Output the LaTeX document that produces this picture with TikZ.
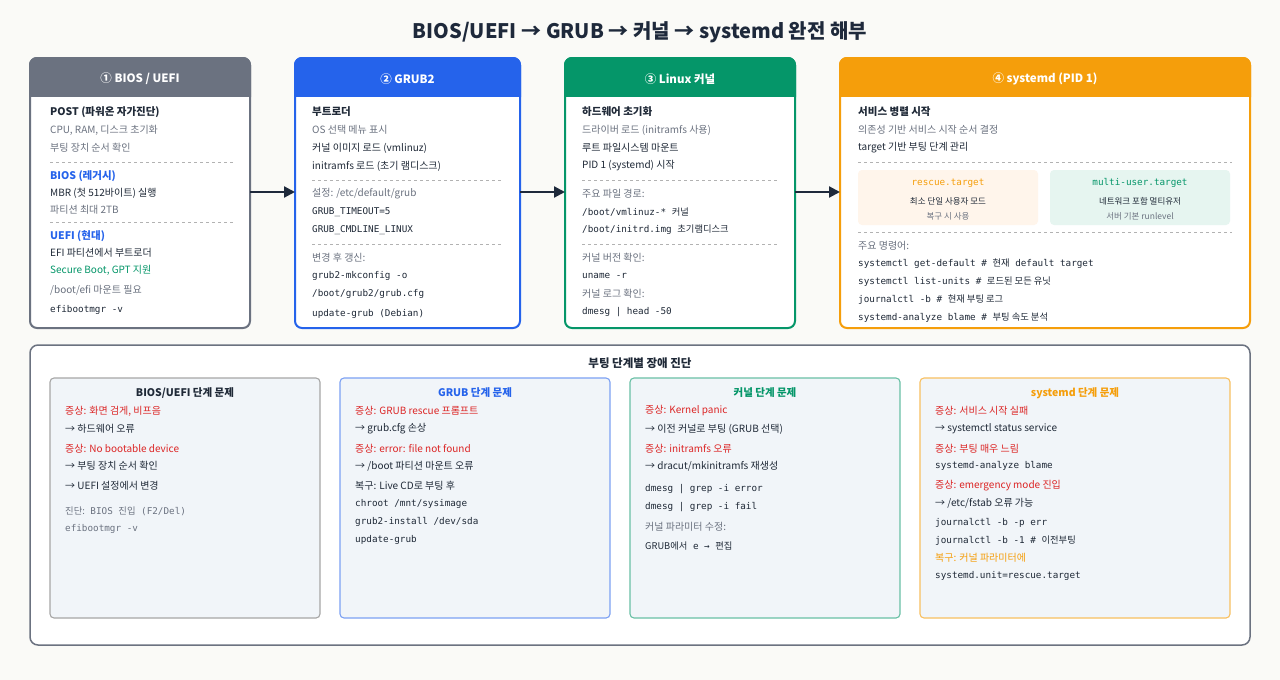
\documentclass[tikz,border=0pt]{standalone}
\usepackage{fontspec}
\setmainfont{Noto Sans CJK KR}
\setmonofont{DejaVu Sans Mono}
\newfontfamily\hgf{Noto Sans CJK KR}
\newcommand{\hg}[1]{{\hgf #1}}
\usetikzlibrary{arrows.meta}
\definecolor{ink}{HTML}{1E293B}
\definecolor{txt}{HTML}{1F2937}
\definecolor{mut}{HTML}{6B7280}
\definecolor{cgray}{HTML}{6B7280}
\definecolor{cblue}{HTML}{2563EB}
\definecolor{cgreen}{HTML}{059669}
\definecolor{corange}{HTML}{F59E0B}
\definecolor{cred}{HTML}{DC2626}
\definecolor{bg}{HTML}{FAFAF7}
\definecolor{panel}{HTML}{F1F5F9}
\tikzset{
 hdrtxt/.style={text=white,font=\fontsize{11.5}{13}\selectfont\bfseries},
 t/.style={anchor=west,inner sep=0pt,text=txt,font=\fontsize{10}{12}\selectfont},
 tb/.style={t,font=\fontsize{10.5}{12}\selectfont\bfseries},
 tg/.style={t,text=mut},
 tm/.style={t,font=\fontsize{9.3}{11}\ttfamily},
 sep/.style={draw=gray!60,dashed,line width=0.8pt},
 flow/.style={draw=ink,line width=2.2pt,-{Triangle[length=11pt,width=11pt]}},
 sub/.style={draw=#1,line width=1.1pt,rounded corners=4pt,fill=panel},
 card/.style={draw=#1,line width=2pt,rounded corners=7pt,fill=white},
}
\begin{document}
\begin{tikzpicture}[x=1pt,y=-1pt]
\fill[bg] (0,0) rectangle (1280,680);
\useasboundingbox (0,0) rectangle (1280,680);
\node[text=ink,font=\fontsize{20}{24}\selectfont\bfseries] (title) at (640,32) {BIOS/UEFI → GRUB → 커널 → systemd 완전 해부};
% cards
\foreach \n/\xa/\xb/\c/\lab in {c1/30/250/cgray/{① BIOS / UEFI}, c2/295/520/cblue/{② GRUB2}, c3/565/795/cgreen/{③ Linux 커널}, c4/840/1250/corange/{④ systemd (PID 1)}}{
 \draw[card=\c] (\xa,58) rectangle (\xb,328);
 \begin{scope}
 \clip[rounded corners=7pt] (\xa,58) rectangle (\xb,328);
 \fill[\c] (\xa,58) rectangle (\xb,97);
 \end{scope}
 \draw[\c,line width=2pt,rounded corners=7pt] (\xa,97) -- (\xa,58) -- (\xb,58) -- (\xb,97);
 \coordinate (\n w) at (\xa,192); \coordinate (\n e) at (\xb,192);
 \node[hdrtxt] (\n h) at ({(\xa+\xb)/2},79) {\lab};
}
\draw[flow] (c1e) -- (c2w);
\draw[flow] (c2e) -- (c3w);
\draw[flow] (c3e) -- (c4w);
% card 1
\node[tb] (a1) at (50,112) {POST (파워온 자가진단)};
\node[tg] (a2) at (50,130) {CPU, RAM, 디스크 초기화};
\node[tg] (a3) at (50,148) {부팅 장치 순서 확인};
\draw[sep] (50,162) -- (233,162);
\node[tb,text=cblue] (a4) at (50,176) {BIOS (레거시)};
\node[t] (a5) at (50,193) {MBR (첫 512바이트) 실행};
\node[tg] (a6) at (50,210) {파티션 최대 2TB};
\draw[sep] (50,222) -- (233,222);
\node[tb,text=cblue] (a7) at (50,236) {UEFI (현대)};
\node[t] (a8) at (50,253) {EFI 파티션에서 부트로더};
\node[t,text=cgreen] (a9) at (50,270) {Secure Boot, GPT 지원};
\node[tg] (a10) at (50,290) {/boot/efi 마운트 필요};
\node[tm] (a11) at (50,310) {efibootmgr -v};
% card 2
\node[tb] (b1) at (312,112) {부트로더};
\node[tg] (b2) at (312,130) {OS 선택 메뉴 표시};
\node[t] (b3) at (312,148) {커널 이미지 로드 (vmlinuz)};
\node[t] (b4) at (312,166) {initramfs 로드 (초기 램디스크)};
\draw[sep] (312,180) -- (502,180);
\node[tg] (b5) at (312,194) {설정: /etc/default/grub};
\node[tm] (b6) at (312,212) {GRUB\_TIMEOUT=5};
\node[tm] (b7) at (312,230) {GRUB\_CMDLINE\_LINUX};
\draw[sep] (312,244) -- (502,244);
\node[tg] (b8) at (312,258) {변경 후 갱신:};
\node[tm] (b9) at (312,276) {grub2-mkconfig -o};
\node[tm] (b10) at (312,294) {/boot/grub2/grub.cfg};
\node[tm] (b11) at (312,314) {update-grub (Debian)};
% card 3
\node[tb] (d1) at (582,112) {하드웨어 초기화};
\node[tg] (d2) at (582,130) {드라이버 로드 (initramfs 사용)};
\node[t] (d3) at (582,148) {루트 파일시스템 마운트};
\node[t] (d4) at (582,166) {PID 1 (systemd) 시작};
\draw[sep] (582,180) -- (777,180);
\node[tg] (d5) at (582,194) {주요 파일 경로:};
\node[tm] (d6) at (582,212) {/boot/vmlinuz-* \hg{커널}};
\node[tm] (d7) at (582,230) {/boot/initrd.img \hg{초기램디스크}};
\draw[sep] (582,244) -- (777,244);
\node[tg] (d8) at (582,258) {커널 버전 확인:};
\node[tm] (d9) at (582,276) {uname -r};
\node[tg] (d10) at (582,294) {커널 로그 확인:};
\node[tm] (d11) at (582,312) {dmesg | head -50};
% card 4
\node[tb] (e1) at (858,112) {서비스 병렬 시작};
\node[tg] (e2) at (858,130) {의존성 기반 서비스 시작 순서 결정};
\node[t] (e3) at (858,148) {target 기반 부팅 단계 관리};
\draw[sep] (858,162) -- (1232,162);
\fill[orange!8,rounded corners=4pt] (858,170) rectangle (1038,225);
\fill[cgreen!10,rounded corners=4pt] (1050,170) rectangle (1230,225);
\node[font=\fontsize{9.3}{10}\ttfamily,text=corange] (r1) at (948,183) {rescue.target};
\node[font=\fontsize{8.5}{10}\selectfont,text=txt] (r2) at (948,201) {최소 단일 사용자 모드};
\node[font=\fontsize{8.5}{10}\selectfont,text=mut] (r3) at (948,216) {복구 시 사용};
\node[font=\fontsize{9.3}{10}\ttfamily,text=cgreen] (m1) at (1140,183) {multi-user.target};
\node[font=\fontsize{8.5}{10}\selectfont,text=txt] (m2) at (1140,201) {네트워크 포함 멀티유저};
\node[font=\fontsize{8.5}{10}\selectfont,text=mut] (m3) at (1140,216) {서버 기본 runlevel};
\draw[sep] (858,232) -- (1232,232);
\node[tg] (e4) at (858,246) {주요 명령어:};
\node[tm] (e5) at (858,264) {systemctl get-default \# \hg{현재} default target};
\node[tm] (e6) at (858,282) {systemctl list-units \# \hg{로드된 모든 유닛}};
\node[tm] (e7) at (858,300) {journalctl -b \# \hg{현재 부팅 로그}};
\node[tm] (e8) at (858,318) {systemd-analyze blame \# \hg{부팅 속도 분석}};
% bottom panel
\draw[draw=cgray,line width=1.5pt,rounded corners=8pt,fill=white] (30,345) rectangle (1250,645);
\node[font=\fontsize{11.5}{13}\selectfont\bfseries,text=txt] (pt) at (640,363) {부팅 단계별 장애 진단};
\draw[sub=gray!70] (50,378) rectangle (320,618);
\draw[sub=cblue!60] (340,378) rectangle (610,618);
\draw[sub=cgreen!60] (630,378) rectangle (900,618);
\draw[sub=corange!65] (920,378) rectangle (1230,618);
\tikzset{st/.style={font=\fontsize{10.5}{12}\selectfont\bfseries}}
\node[st,text=txt] (s1) at (185,393) {BIOS/UEFI 단계 문제};
\node[st,text=cblue] (s2) at (475,393) {GRUB 단계 문제};
\node[st,text=cgreen] (s3) at (765,393) {커널 단계 문제};
\node[st,text=corange] (s4) at (1075,393) {systemd 단계 문제};
\tikzset{tr/.style={t,text=cred,font=\fontsize{10}{11}\selectfont},
 tn/.style={t,font=\fontsize{10}{11}\selectfont}}
% p1
\node[tr] (p1a) at (65,411) {증상: 화면 검게, 비프음};
\node[tn] (p1b) at (65,429) {→ 하드웨어 오류};
\node[tr] (p1c) at (65,449) {증상: No bootable device};
\node[tn] (p1d) at (65,466) {→ 부팅 장치 순서 확인};
\node[tn] (p1e) at (65,486) {→ UEFI 설정에서 변경};
\node[tm,text=mut] (p1f) at (65,511) {\hg{진단:} BIOS \hg{진입} (F2/Del)};
\node[tm,text=mut] (p1g) at (65,529) {efibootmgr -v};
% p2
\node[tr] (p2a) at (355,411) {증상: GRUB rescue 프롬프트};
\node[tn] (p2b) at (355,429) {→ grub.cfg 손상};
\node[tr] (p2c) at (355,449) {증상: error: file not found};
\node[tn] (p2d) at (355,466) {→ /boot 파티션 마운트 오류};
\node[tn] (p2e) at (355,486) {복구: Live CD로 부팅 후};
\node[tm] (p2f) at (355,504) {chroot /mnt/sysimage};
\node[tm] (p2g) at (355,522) {grub2-install /dev/sda};
\node[tm] (p2h) at (355,540) {update-grub};
% p3
\node[tr] (p3a) at (645,411) {증상: Kernel panic};
\node[tn] (p3b) at (645,429) {→ 이전 커널로 부팅 (GRUB 선택)};
\node[tr] (p3c) at (645,449) {증상: initramfs 오류};
\node[tn] (p3d) at (645,466) {→ dracut/mkinitramfs 재생성};
\node[tm] (p3e) at (645,489) {dmesg | grep -i error};
\node[tm] (p3f) at (645,507) {dmesg | grep -i fail};
\node[tg,font=\fontsize{10}{11}\selectfont] (p3g) at (645,527) {커널 파라미터 수정:};
\node[tm] (p3h) at (645,546) {\hg{GRUB에서} e → \hg{편집}};
% p4
\node[tr] (p4a) at (935,411) {증상: 서비스 시작 실패};
\node[tn] (p4b) at (935,429) {→ systemctl status service};
\node[tr] (p4c) at (935,449) {증상: 부팅 매우 느림};
\node[tm] (p4d) at (935,466) {systemd-analyze blame};
\node[tr] (p4e) at (935,486) {증상: emergency mode 진입};
\node[tn] (p4f) at (935,503) {→ /etc/fstab 오류 가능};
\node[tm] (p4g) at (935,523) {journalctl -b -p err};
\node[tm] (p4h) at (935,541) {journalctl -b -1 \# \hg{이전부팅}};
\node[tr,text=corange] (p4i) at (935,558) {복구: 커널 파라미터에};
\node[tm] (p4j) at (935,576) {systemd.unit=rescue.target};
\end{tikzpicture}
\end{document}
